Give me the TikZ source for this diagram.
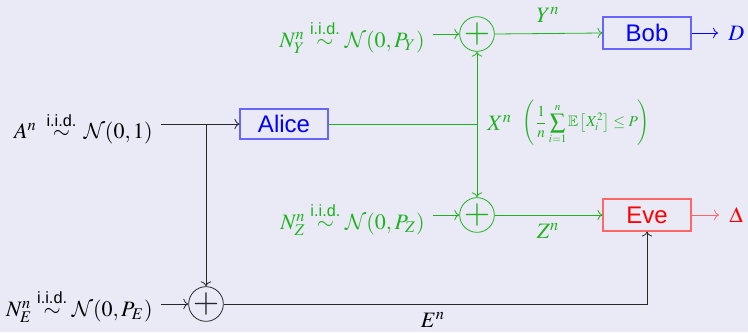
\documentclass[tikz,border=0pt]{standalone}
\usepackage{amsmath}
\usepackage{mathptmx}
\usepackage{amssymb}
\DeclareMathAlphabet{\mathcal}{OMS}{cmsy}{m}{n}
\usepackage[no-math]{fontspec}
\setsansfont{Liberation Sans}
\usetikzlibrary{arrows.meta}
\definecolor{bg}{RGB}{234,234,246}
\definecolor{grn}{RGB}{30,178,30}
\definecolor{dk}{RGB}{40,40,40}
\newcommand{\iidsim}{\mathrel{\;\stackrel{\text{\sffamily i.i.d.}}{\sim}\,}}
\newcommand{\iidsimn}{\mathrel{\stackrel{\text{\sffamily i.i.d.}}{\sim}}}
\tikzset{
  box/.style={draw, rectangle, line width=0.6pt, minimum width=44pt, minimum height=15pt, inner sep=2pt, font=\fontsize{12}{14}\selectfont\sffamily},
  sumnode/.style={circle, draw, minimum size=14pt, inner sep=0pt, font=\fontsize{17}{17}\selectfont},
  lbl/.style={inner sep=4pt},
}
\begin{document}
\begin{tikzpicture}[x=0.5pt,y=-0.5pt,font=\fontsize{11}{13}\selectfont,>=To]
\fill[bg] (0,0) rectangle (748,332);
\useasboundingbox (0,0) rectangle (748,332);

% nodes
\node[box, draw=blue!60, text=blue] (alice) at (284,124) {Alice};
\node[box, draw=blue!60, text=blue, minimum height=16pt] (bob) at (647,33) {Bob};
\node[box, draw=red!60, text=red, minimum height=16pt] (eve) at (647,215) {Eve};

\node[sumnode, draw=grn, text=grn] (sY) at (477,34) {$+$};
\node[sumnode, draw=grn, text=grn] (sZ) at (477,215) {$+$};
\node[sumnode, draw=dk, text=dk] (sE) at (206,304) {$+$};

\node[lbl, anchor=east] (A) at (161,128) {$A^n \iidsim \mathcal{N}(0,1)$};
\node[lbl, anchor=east, text=grn] (NY) at (433,37) {$N_Y^n \iidsimn \mathcal{N}(0,P_Y)$};
\node[lbl, anchor=east, text=grn] (NZ) at (433,219) {$N_Z^n \iidsimn \mathcal{N}(0,P_Z)$};
\node[lbl, anchor=east] (NE) at (161,306) {$N_E^n \iidsimn \mathcal{N}(0,P_E)$};

\node[lbl, anchor=west, text=blue] (D) at (720,33) {$D$};
\node[lbl, anchor=west, text=red] (Delta) at (721,215) {$\Delta$};

\coordinate (br) at (206,124);
\coordinate (xj) at (477,124);

\node[inner sep=1pt, anchor=west, text=grn] (X) at (485,123) {$X^n$};
\node[inner sep=1pt, anchor=west, text=grn, font=\fontsize{7.6}{9}\selectfont] (cons) at ([xshift=3pt]X.east) {$\displaystyle\left(\frac{1}{n}\sum_{i=1}^{n}\mathbb{E}\left[X_i^2\right]\le P\right)$};
\node[text=grn] (Y) at (548,15) {$Y^n$};
\node[text=grn] (Z) at (548,231) {$Z^n$};
\node (E) at (433,320) {$E^n$};

% connectors
\draw[->, dk] (A.east |- br) -- (alice.west);
\draw[->, dk] (br) -- (sE.north);
\draw[->, dk] (NE.east |- sE) -- (sE.west);
\draw[->, dk] (sE.east) -- (sE.east -| eve.south) -- (eve.south);

\draw[grn] (alice.east) -- (xj);
\draw[->, grn] (xj) -- (sY.south);
\draw[->, grn] (xj) -- (sZ.north);
\draw[->, grn] (NY.east |- sY) -- (sY.west);
\draw[->, grn] (NZ.east |- sZ) -- (sZ.west);
\draw[->, grn] (sY.east) -- (bob.west);
\draw[->, grn] (sZ.east) -- (eve.west);

\draw[->, blue] (bob.east) -- ([xshift=-1pt]D.west);
\draw[->, red!60] (eve.east) -- ([xshift=-1pt]Delta.west);
\end{tikzpicture}
\end{document}
